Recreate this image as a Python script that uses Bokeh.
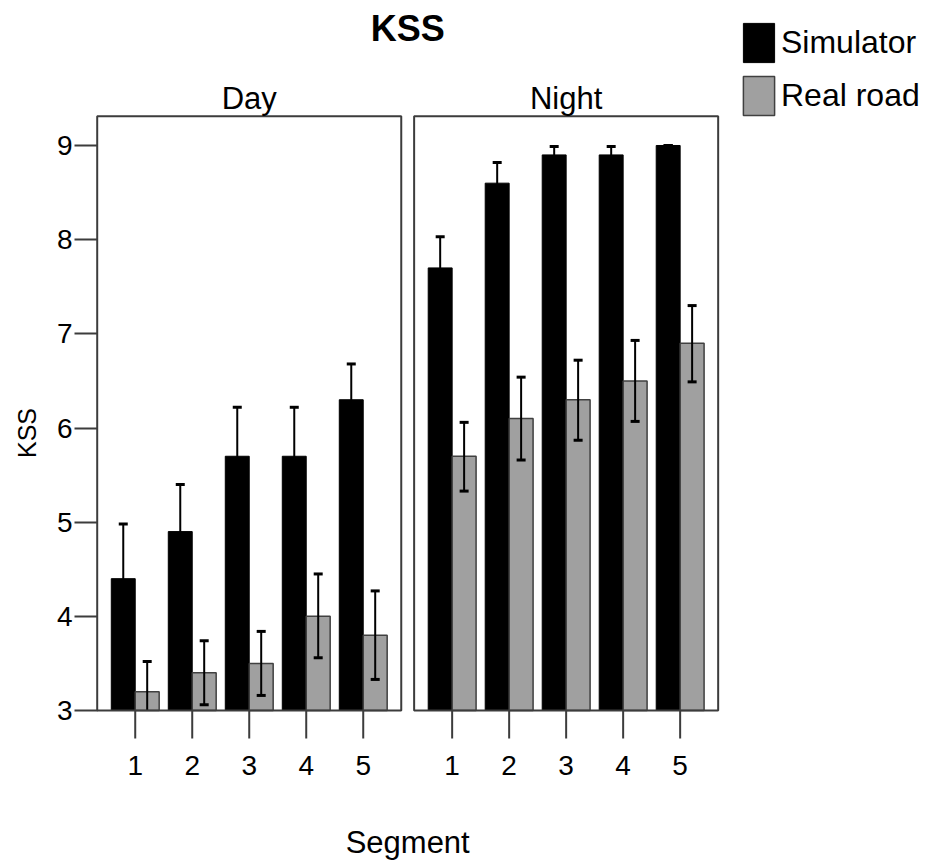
import numpy as np
from bokeh.plotting import figure
from bokeh.models import Range1d, FixedTicker, Label, Legend, LegendItem
from bokeh.embed import file_html
from bokeh.resources import INLINE
from bokeh.core.properties import value

# ---------------- data ----------------
segments = [1, 2, 3, 4, 5]
segment_labels = ["1", "2", "3", "4", "5"]
panels = ["Day", "Night"]
series = ["Simulator", "Real road"]
y_ticks = [3, 4, 5, 6, 7, 8, 9]

day_sim = [4.4, 4.9, 5.7, 5.7, 6.3]
day_sim_lo = [3.82, 4.40, 5.18, 5.18, 5.92]
day_sim_hi = [4.98, 5.40, 6.22, 6.22, 6.68]

day_real = [3.2, 3.4, 3.5, 4.0, 3.8]
day_real_lo = [2.88, 3.06, 3.16, 3.56, 3.33]
day_real_hi = [3.52, 3.74, 3.84, 4.45, 4.27]

night_sim = [7.7, 8.6, 8.9, 8.9, 9.0]
night_sim_lo = [7.37, 8.38, 8.81, 8.81, 9.0]
night_sim_hi = [8.03, 8.82, 8.99, 8.99, 9.0]

night_real = [5.7, 6.1, 6.3, 6.5, 6.9]
night_real_lo = [5.33, 5.66, 5.87, 6.07, 6.49]
night_real_hi = [6.06, 6.54, 6.72, 6.93, 7.30]

# ---------------- layout constants ----------------
FONT = "Liberation Sans"
PANEL_LO, PANEL_HI = 0.333, 5.667
OFFSET = 5.56
OFFSETS = [0.0, OFFSET]
Y_LO, Y_TOP = 3.0, 9.31
BAR_W = 0.42
PX_X = 57.0          # pixels per x unit
PX_Y = 94.17         # pixels per y unit
SIM_COLOR = "#000000"
REAL_COLOR = "#a0a0a0"
FRAME_COLOR = "#3c3c3c"

X_START = PANEL_LO - 0.03
FRAME_LEFT = 95
X_END = X_START + (925 - FRAME_LEFT) / PX_X
Y_END = 9 + 145 / PX_Y
Y_START = 3 - (865 - 710) / PX_Y


def y_at(px):
    """data y for a pixel row (0 = top of the page)"""
    return 9 + (145 - px) / PX_Y


p = figure(width=925, height=865, output_backend="svg", toolbar_location=None,
           x_range=Range1d(X_START, X_END), y_range=Range1d(Y_START, Y_END),
           min_border_left=FRAME_LEFT, min_border_right=0,
           min_border_top=0, min_border_bottom=0)
p.outline_line_color = None
p.xgrid.grid_line_color = None
p.ygrid.grid_line_color = None
p.xaxis.visible = False
p.background_fill_color = "white"
p.border_fill_color = "white"

sim_vals = [day_sim, night_sim]
sim_los = [day_sim_lo, night_sim_lo]
sim_his = [day_sim_hi, night_sim_hi]
real_vals = [day_real, night_real]
real_los = [day_real_lo, night_real_lo]
real_his = [day_real_hi, night_real_hi]

seg = np.array(segments, dtype=float)
r_sim = r_real = None
for k, off in enumerate(OFFSETS):
    xs = seg + off - BAR_W / 2
    xr = seg + off + BAR_W / 2
    r_sim = p.vbar(x=xs, top=sim_vals[k], bottom=Y_LO, width=BAR_W,
                   fill_color=SIM_COLOR, line_color="#000000", line_width=1)
    r_real = p.vbar(x=xr, top=real_vals[k], bottom=Y_LO, width=BAR_W,
                    fill_color=REAL_COLOR, line_color="#404040", line_width=1.5)
    for xx, lo, hi in ((xs, sim_los[k], sim_his[k]), (xr, real_los[k], real_his[k])):
        lo = np.asarray(lo, dtype=float)
        inside = lo >= Y_LO
        p.segment(x0=xx, y0=np.clip(lo, Y_LO, None), x1=xx, y1=hi,
                  line_color="black", line_width=2)
        p.scatter(x=xx, y=hi, marker="dash", size=9, line_color="black", line_width=3)
        p.scatter(x=xx[inside], y=lo[inside], marker="dash", size=9,
                  line_color="black", line_width=3)

# panel frames
p.quad(left=[PANEL_LO + o for o in OFFSETS], right=[PANEL_HI + o for o in OFFSETS],
       bottom=Y_LO, top=Y_TOP, fill_color=None, line_color=FRAME_COLOR, line_width=2)

# x ticks and tick labels (per panel)
tick_pos = np.array([s + o for o in OFFSETS for s in segments], dtype=float)
tick_txt = [segment_labels[i % 5] for i in range(len(tick_pos))]
p.segment(x0=tick_pos, y0=Y_LO, x1=tick_pos, y1=Y_LO - 28 / PX_Y,
          line_color=FRAME_COLOR, line_width=2)
p.text(x=tick_pos, y=y_at(765), text=tick_txt, text_align="center",
       text_baseline="alphabetic", text_font=value(FONT), text_font_size="28px",
       text_color="black")

# x axis title
mid_x = (PANEL_LO + OFFSET + PANEL_HI) / 2
p.add_layout(Label(x=mid_x, y=y_at(842), text="Segment", text_align="center",
                   text_baseline="alphabetic", text_font=FONT, text_font_size="31px",
                   text_color="black"))

# y axis
p.yaxis.ticker = FixedTicker(ticks=y_ticks)
p.yaxis.axis_line_color = None
p.yaxis.major_tick_out = 21
p.yaxis.major_tick_in = 2
p.yaxis.major_tick_line_width = 2
p.yaxis.major_tick_line_color = FRAME_COLOR
p.yaxis.minor_tick_line_color = None
p.yaxis.major_label_standoff = 2
p.yaxis.major_label_text_font = FONT
p.yaxis.major_label_text_font_size = "28px"
p.yaxis.major_label_text_color = "black"
p.yaxis.axis_label = "KSS"
p.yaxis.axis_label_text_font = FONT
p.yaxis.axis_label_text_font_style = "normal"
p.yaxis.axis_label_text_font_size = "25px"
p.yaxis.axis_label_text_color = "black"
p.yaxis.axis_label_standoff = 13

# title and strip labels
p.add_layout(Label(x=mid_x, y=y_at(28), text="KSS",
                   text_align="center", text_baseline="alphabetic",
                   text_font=FONT, text_font_size="36px", text_font_style="bold",
                   text_color="black"))
for name, off in zip(panels, OFFSETS):
    p.add_layout(Label(x=(PANEL_LO + PANEL_HI) / 2 + off, y=y_at(98),
                       text=name, text_align="center", text_baseline="alphabetic",
                       text_font=FONT, text_font_size="31px", text_color="black"))

legend = Legend(items=[LegendItem(label=series[0], renderers=[r_sim]),
                       LegendItem(label=series[1], renderers=[r_real])],
                location=(739 - FRAME_LEFT, 865 - 120), padding=0, margin=0, spacing=4,
                glyph_width=39, glyph_height=49, label_standoff=3,
                label_text_font=FONT, label_text_font_size="32px",
                label_text_color="black",
                border_line_color=None, background_fill_alpha=0)
p.add_layout(legend, "center")

open("out.html", "w").write(file_html(p, INLINE))
